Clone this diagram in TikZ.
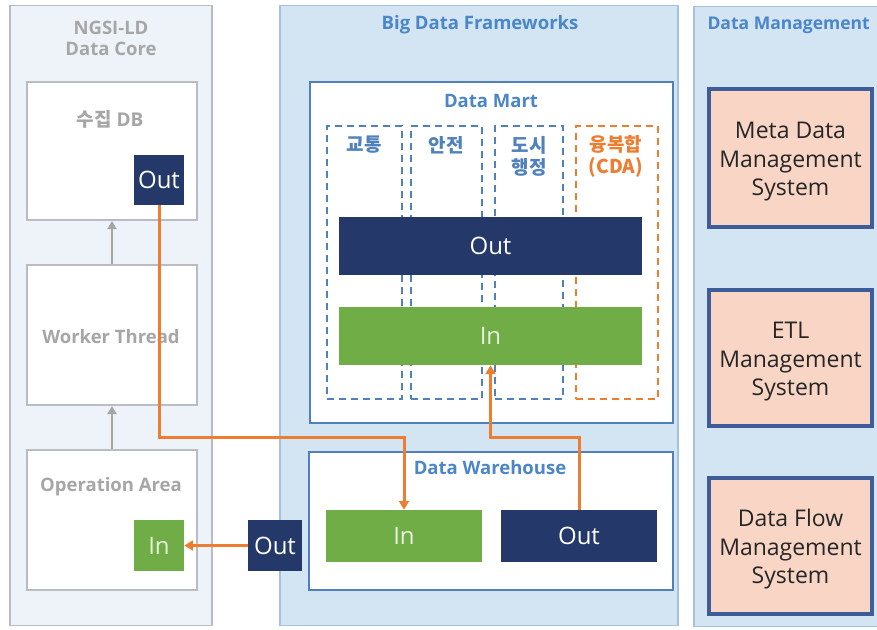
\documentclass[tikz,border=0pt]{standalone}
\usepackage{fontspec}
\setmainfont{Open Sans}
\newfontfamily\kr{Noto Sans CJK KR}
\usetikzlibrary{arrows.meta}

\definecolor{navy}{HTML}{24386A}
\definecolor{leaf}{HTML}{70AD47}
\definecolor{leaftext}{HTML}{E6F2DC}
\definecolor{flow}{HTML}{ED7D31}
\definecolor{coregray}{HTML}{A6A6A6}
\definecolor{coreline}{HTML}{B9BCC2}
\definecolor{corefill}{HTML}{EEF3FA}
\definecolor{panelfill}{HTML}{D3E4F3}
\definecolor{panelline}{HTML}{A4C2E0}
\definecolor{titleblue}{HTML}{4A86C8}
\definecolor{martline}{HTML}{4F7FBC}
\definecolor{dashblue}{HTML}{4F81BD}
\definecolor{peach}{HTML}{F8D5C5}
\definecolor{sysline}{HTML}{3E5C9A}
\definecolor{systext}{HTML}{262626}

\tikzset{
  box/.style={rectangle, inner sep=0pt, anchor=center},
  corepanel/.style={box, draw=coreline, line width=1.5pt, fill=corefill},
  bigpanel/.style={box, draw=panelline, line width=1.5pt, fill=panelfill},
  corebox/.style={box, draw=coreline, line width=2pt, fill=white},
  groupbox/.style={box, draw=martline, line width=2pt, fill=white},
  navybox/.style={box, fill=navy, text=white, font=\fontsize{24}{28}\selectfont},
  leafbox/.style={box, fill=leaf, text=leaftext, font=\fontsize{24}{28}\selectfont},
  sysbox/.style={box, draw=sysline, line width=4pt, fill=peach},
  syslabel/.style={text=systext, align=center, font=\fontsize{23}{28.5}\selectfont},
  graytitle/.style={text=coregray, font=\bfseries\fontsize{18.5}{21}\selectfont, align=center},
  bluetitle/.style={text=titleblue, font=\bfseries\fontsize{18.5}{21}\selectfont, align=center},
  domainbox/.style={box, draw=dashblue, line width=2.2pt, dash pattern=on 7pt off 5pt},
  domainlabel/.style={text=dashblue, font=\kr\bfseries\fontsize{19}{22}\selectfont, align=center},
  flowline/.style={draw=flow, line width=3pt, -{Triangle[length=9pt,width=10pt]}},
  grayarrow/.style={draw=coregray, line width=2pt, -{Triangle[length=8pt,width=9pt]}},
}

\begin{document}
\begin{tikzpicture}[x=1pt,y=-1pt]
\useasboundingbox (0,0) rectangle (877,629);
\clip (0,0) rectangle (877,629);
\fill[white] (0,0) rectangle (877,629);

% ---- NGSI-LD data core ----
\node[corepanel, minimum width=202, minimum height=620] (core) at (111,315.5) {};
\node[graytitle] (coretitle) at (111,38) {NGSI-LD\\Data Core};
\node[corebox, minimum width=170, minimum height=138] (collect) at (112,151) {};
\node[text=coregray, font=\bfseries\fontsize{19}{22}\selectfont] (collectlabel) at (110,119) {{\kr 수집} DB};
\node[navybox, minimum width=50, minimum height=50] (dbout) at (159,180) {Out};
\node[corebox, minimum width=170, minimum height=140] (worker) at (112,335) {};
\node[graytitle] (workerlabel) at (111,337) {Worker Thread};
\node[corebox, minimum width=170, minimum height=140] (operation) at (112,520) {};
\node[graytitle] (operationlabel) at (111,487) {Operation Area};
\node[leafbox, minimum width=50, minimum height=51] (opin) at (159,545.5) {In};

\draw[grayarrow] (worker.north) -- (collect.south);
\draw[grayarrow] (operation.north) -- (worker.south);

% ---- Big data frameworks ----
\node[bigpanel, minimum width=398, minimum height=620] (big) at (479,315.5) {};
\node[bluetitle] (bigtitle) at (480,25) {Big Data Frameworks};

\node[groupbox, minimum width=363, minimum height=341] (mart) at (491.5,252.5) {};
\node[bluetitle] (marttitle) at (491,101) {Data Mart};
\node[domainbox, minimum width=75, minimum height=273] (traffic) at (364.5,262.5) {};
\node[domainbox, minimum width=71, minimum height=273] (safety) at (446.5,262.5) {};
\node[domainbox, minimum width=68, minimum height=273] (admin) at (529,262.5) {};
\node[domainbox, draw=flow, minimum width=82, minimum height=273] (cda) at (617,262.5) {};
\node[domainlabel] (trafficlabel) at (364,145) {교통};
\node[domainlabel] (safetylabel) at (446,145) {안전};
\node[domainlabel] (adminlabel) at (529,156) {도시\\행정};
\node[domainlabel, text=flow] (cdalabel) at (616,156) {융복합\\(CDA)};
\node[navybox, minimum width=303, minimum height=58] (martout) at (490.5,246) {Out};
\node[leafbox, minimum width=303, minimum height=58] (martin) at (490.5,336) {In};

\node[groupbox, minimum width=364, minimum height=138] (dw) at (491,521) {};
\node[bluetitle] (dwtitle) at (490,468) {Data Warehouse};
\node[leafbox, minimum width=156, minimum height=52] (dwin) at (404,536) {In};
\node[navybox, minimum width=156, minimum height=52] (dwout) at (579,536) {Out};

% ---- Data management ----
\node[bigpanel, minimum width=200, minimum height=620, anchor=north west] (mgmt) at (693,5.5) {};
\node[bluetitle, anchor=west, font=\bfseries\fontsize{17.5}{21}\selectfont] (mgmttitle) at (704,25) {Data Management};
\node[sysbox, minimum width=163, minimum height=138] (meta) at (790.5,158) {};
\node[syslabel] (metalabel) at (790.5,162) {Meta Data\\Management\\System};
\node[sysbox, minimum width=163, minimum height=136] (etl) at (790.5,358) {};
\node[syslabel] (etllabel) at (790.5,362) {ETL\\Management\\System};
\node[sysbox, minimum width=163, minimum height=136] (dataflow) at (790.5,546) {};
\node[syslabel] (dataflowlabel) at (790.5,549.5) {Data Flow\\Management\\System};

% ---- exported output of the warehouse ----
\node[navybox, minimum width=54, minimum height=51] (expout) at (275,545.5) {Out};

% ---- data flows ----
\coordinate (bendA) at (404,437);
\coordinate (bendB) at (490.5,437);
\draw[flowline] (dbout.south) |- (bendA) -- (dwin.north);
\draw[flowline] (dwout.north) |- (bendB) -- (martin.south);
\draw[flowline] (expout.west) -- (opin.east);
\end{tikzpicture}
\end{document}
